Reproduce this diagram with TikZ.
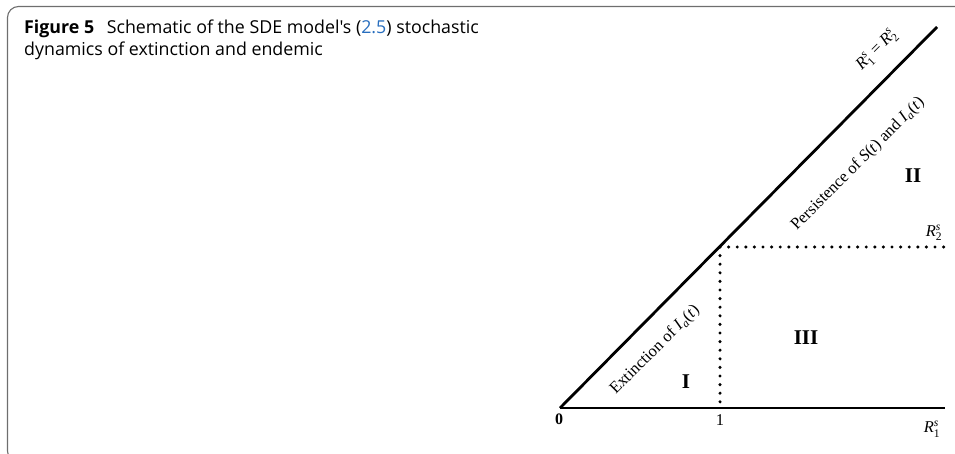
\documentclass[tikz,border=0pt]{standalone}
\usepackage{amsmath}
\usepackage{fontspec}
\setmainfont{Liberation Serif}
\newfontfamily\capfont{Open Sans}
\definecolor{linkblue}{RGB}{40,110,190}
\definecolor{framegray}{RGB}{110,110,110}
\tikzset{
  axisline/.style={line width=2.8pt},
  dotline/.style={line width=3.4pt, line cap=round, dash pattern=on 0pt off 8.6pt},
  lbl/.style={font=\fontsize{16.5}{18}\selectfont, inner sep=0pt},
  roman/.style={font=\fontsize{21}{22}\selectfont\bfseries, inner sep=0pt},
  captext/.style={font=\capfont\fontsize{17.8}{21.5}\selectfont, inner sep=0pt, anchor=north west, align=left}
}
\newcommand{\Rs}[1]{\textit{R}$^{\textit{s}}_{\text{#1}}$}
\newcommand{\Ia}{\textit{I}$_{\textit{a}}$(\textit{t})}
\begin{document}
\begin{tikzpicture}[x=1pt,y=-1pt]
\useasboundingbox (0,0) rectangle (955,453);
% frame
\draw[framegray, line width=1.1pt, rounded corners=11pt] (960,6.5) -- (7.5,6.5) -- (7.5,462) -- (40,462);
% caption
\node[captext] (caption) at (24,20) {\textbf{Figure 5}\hspace{0.45em} Schematic of the SDE model's ({\color{linkblue}2.5}) stochastic\\dynamics of extinction and endemic};
% geometry
\coordinate (O) at (560,408);
\coordinate (E) at (945,408);
\coordinate (T) at (937,27);
\coordinate (P) at (720,247);
\coordinate (Pd) at (720,405);
\coordinate (Pr) at (950,247);
\draw[axisline] (O) -- (E);
\draw[axisline] (O) -- (T);
\draw[dotline] (P) -- (Pd);
\draw[dotline] (P) -- (Pr);
% labels
\node[lbl, font=\fontsize{16}{18}\selectfont\bfseries] (zero) at (559,419) {0};
\node[lbl] (one) at (720,420) {1};
\node[lbl] (r1) at (932,429) {\Rs{1}};
\node[lbl] (r2) at (934,233) {\Rs{2}};
\node[lbl, rotate=45] (r12) at (877,50) {\Rs{1} = \Rs{2}};
\node[lbl, rotate=45] (pers) at (858,164) {Persistence of \textit{S}(\textit{t}) and \Ia};
\node[lbl, rotate=45] (ext) at (655,350) {Extinction of \Ia};
\node[roman] (rI) at (686,382) {I};
\node[roman] (rII) at (913,176) {II};
\node[roman] (rIII) at (806,338) {III};
\end{tikzpicture}
\end{document}
